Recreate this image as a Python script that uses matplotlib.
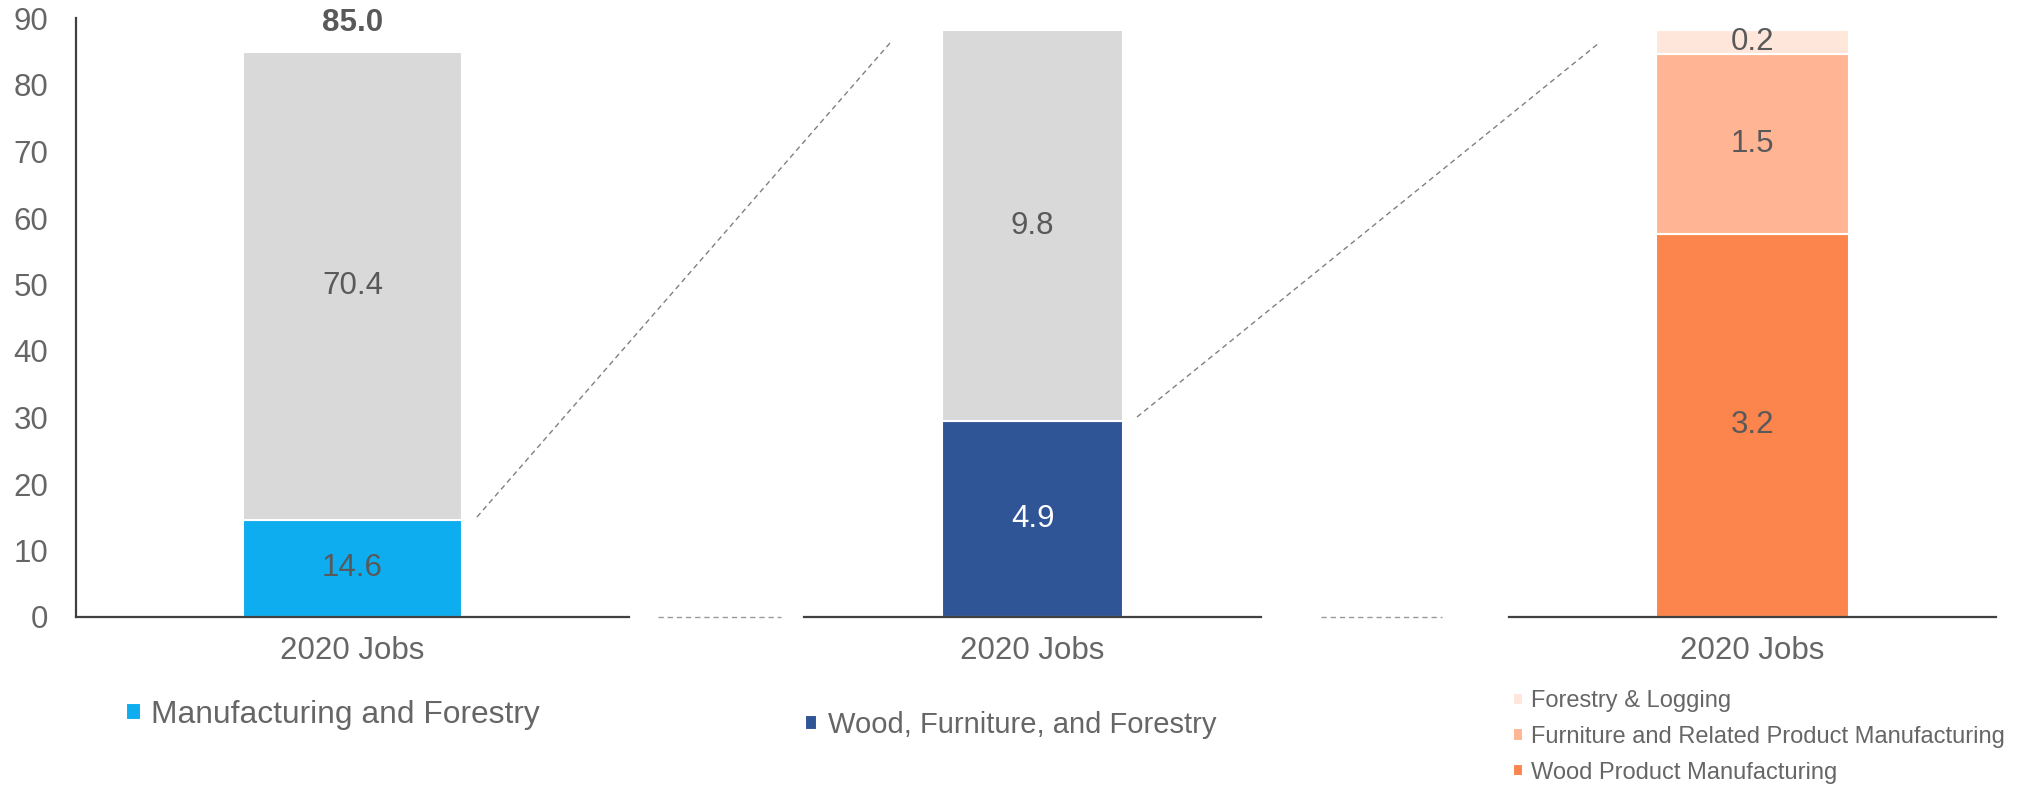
# -*- coding: utf-8 -*-

#---    Packages
import matplotlib.pyplot as plt
from matplotlib.lines import Line2D

plt.rcParams['font.family'] = ['Liberation Sans', 'DejaVu Sans']

#---    Data (thousands of jobs, 2020)
category = ['2020 Jobs']

# panel 1: all manufacturing and forestry vs the rest
total_jobs = [85.0]
mfg_forestry = [14.6]

# panel 2: manufacturing and forestry split
wood_furn_forestry = [4.9]
other_mfg = [9.8]

# panel 3: wood, furniture and forestry split
wood_product = [3.2]
furniture = [1.5]
forestry_logging = [0.2]

c_gray = '#d9d9d9'
c_cyan = '#0dadef'
c_navy = '#305597'
c_wood = '#fc854d'
c_furn = '#ffb594'
c_forest = '#ffe6da'
c_text = '#595959'
c_tick = '#666666'
c_axis = '#404040'

W, H = 2019, 788
fig = plt.figure(figsize=(W / 100, H / 100), dpi=100)

bottom, height = 171 / H, 598.5 / H
ax1 = fig.add_axes([76 / W, bottom, 553 / W, height])
ax2 = fig.add_axes([804 / W, bottom, 457 / W, height])
ax3 = fig.add_axes([1509 / W, bottom, 487 / W, height])

bw = 0.395
x = [0]
fs = 22.5

# Panel 1
rest = [t - m for t, m in zip(total_jobs, mfg_forestry)]
b11 = ax1.bar(x, mfg_forestry, bw, color=c_cyan, edgecolor='white', linewidth=1.5,
              label='Manufacturing and Forestry')
b12 = ax1.bar(x, rest, bw, bottom=mfg_forestry, color=c_gray, edgecolor='white', linewidth=1.5)
ax1.bar_label(b11, labels=['%.1f' % v for v in mfg_forestry], label_type='center', fontsize=fs, color=c_text)
ax1.bar_label(b12, labels=['%.1f' % v for v in rest], label_type='center', fontsize=fs, color=c_text)
ax1.annotate('%.1f' % total_jobs[0], (0, total_jobs[0]), xytext=(0, 21), textcoords='offset points',
             ha='center', va='center', fontsize=fs, fontweight='bold', color=c_text)
ax1.set_ylim(0, 90)
ax1.set_yticks(range(0, 91, 10))

# Panel 2
b21 = ax2.bar(x, wood_furn_forestry, bw, color=c_navy, edgecolor='white', linewidth=1.5,
              label='Wood, Furniture, and Forestry')
b22 = ax2.bar(x, other_mfg, bw, bottom=wood_furn_forestry, color=c_gray, edgecolor='white', linewidth=1.5)
ax2.bar_label(b21, labels=['%.1f' % v for v in wood_furn_forestry], label_type='center', fontsize=fs, color='white')
ax2.bar_label(b22, labels=['%.1f' % v for v in other_mfg], label_type='center', fontsize=fs, color=c_text)
ax2.set_ylim(0, 15)

# Panel 3
b31 = ax3.bar(x, wood_product, bw, color=c_wood, edgecolor='white', linewidth=1.5,
              label='Wood Product Manufacturing')
base2 = [a + b for a, b in zip(wood_product, furniture)]
b32 = ax3.bar(x, furniture, bw, bottom=wood_product, color=c_furn, edgecolor='white', linewidth=1.5,
              label='Furniture and Related Product Manufacturing')
b33 = ax3.bar(x, forestry_logging, bw, bottom=base2, color=c_forest, edgecolor='white', linewidth=1.5,
              label='Forestry & Logging')
for b, vals in [(b31, wood_product), (b32, furniture), (b33, forestry_logging)]:
    ax3.bar_label(b, labels=['%.1f' % v for v in vals], label_type='center', fontsize=fs, color=c_text)
ax3.set_ylim(0, 5)

for ax in [ax1, ax2, ax3]:
    ax.set_xlim(-0.5, 0.5)
    ax.set_xticks(x)
    ax.set_xticklabels(category)
    ax.tick_params(axis='x', length=0, pad=14, labelsize=fs, labelcolor=c_tick)
    for s in ['top', 'right', 'left']:
        ax.spines[s].set_visible(False)
    ax.spines['bottom'].set_color(c_axis)
    ax.spines['bottom'].set_linewidth(1.6)
    ax.patch.set_alpha(0)

ax1.spines['left'].set_visible(True)
ax1.spines['left'].set_color(c_axis)
ax1.spines['left'].set_linewidth(1.6)
ax1.tick_params(axis='y', length=0, pad=20, labelsize=fs, labelcolor=c_tick)
ax2.set_yticks([])
ax3.set_yticks([])

#---    Legends
fig.legend(handles=[b11], loc='center left', bbox_to_anchor=(126 / W, 1 - 715 / H), frameon=False,
           fontsize=22.9, labelcolor=c_tick, handlelength=0.46, handleheight=0.46, handletextpad=0.33,
           borderpad=0, borderaxespad=0)
fig.legend(handles=[b21], loc='center left', bbox_to_anchor=(805 / W, 1 - 725 / H), frameon=False,
           fontsize=21, labelcolor=c_tick, handlelength=0.4, handleheight=0.4, handletextpad=0.4,
           borderpad=0, borderaxespad=0)
fig.legend(handles=[b33, b32, b31], loc='center left', bbox_to_anchor=(1513 / W, 1 - 737 / H), frameon=False,
           fontsize=17, labelcolor=c_tick, handlelength=0.43, handleheight=0.43, handletextpad=0.34,
           labelspacing=0.58, borderpad=0, borderaxespad=0)

#---    Connector lines between panels
def dashed(x0, y0, x1, y1, col='#808080'):
    fig.add_artist(Line2D([x0 / W, x1 / W], [1 - y0 / H, 1 - y1 / H], transform=fig.transFigure,
                          color=col, linewidth=1, dashes=(3.8, 2.8)))

dashed(477, 517, 890, 43)
dashed(1137, 417, 1599, 43)
dashed(658, 617, 781, 617, '#999999')
dashed(1321, 617, 1442, 617, '#999999')

plt.savefig('out.png', dpi=100)
